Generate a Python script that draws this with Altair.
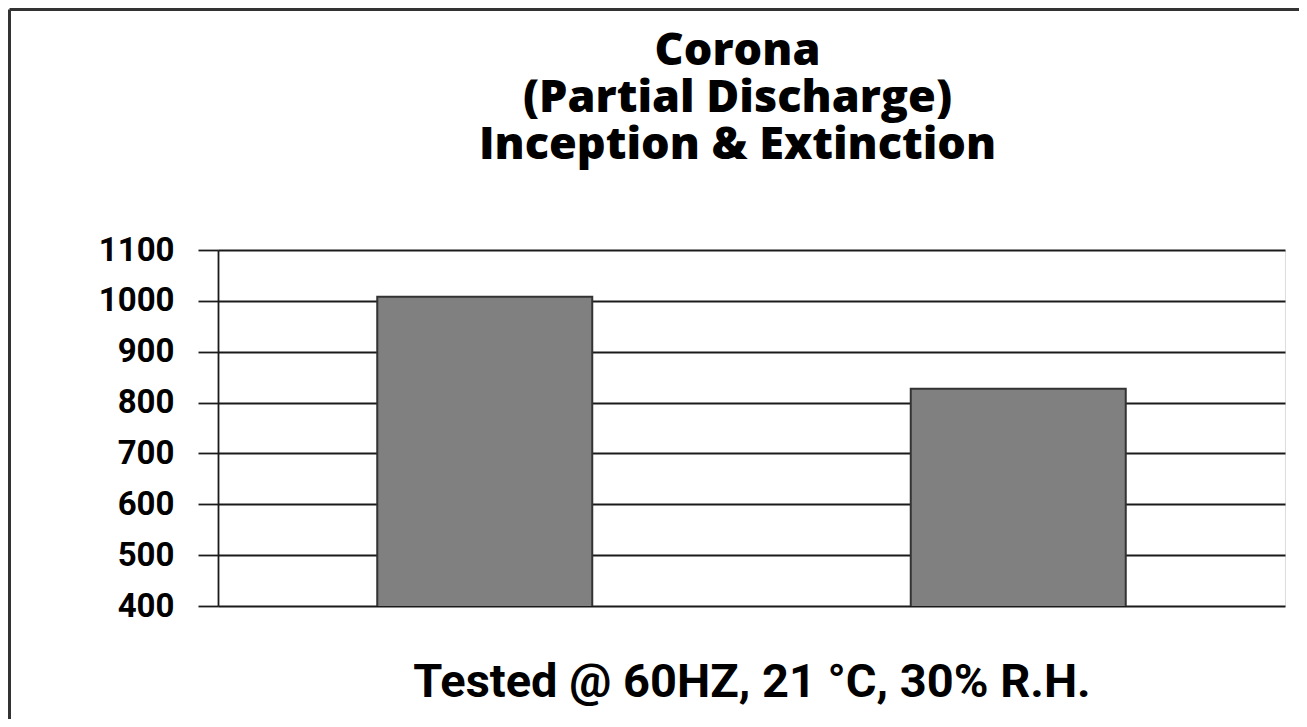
import altair as alt
import pandas as pd

categories = ["Inception", "Extinction"]
values = [1008, 827]
y_ticks = [400, 500, 600, 700, 800, 900, 1000, 1100]
title_lines = ["Corona", "(Partial Discharge)", "Inception & Extinction"]
footer = "Tested @ 60HZ, 21 °C, 30% R.H."

df = pd.DataFrame({"cat": categories, "val": values})
one = pd.DataFrame({"a": [0]})

W, H = 1067, 356
PL, PT = 210, 242
TOTAL_W, TOTAL_H = 1291, 711
COND = "Roboto, sans-serif"

bars = alt.Chart(df).mark_bar(
    color="#808080", stroke="#333333", strokeWidth=2, clip=True
).encode(
    x=alt.X("cat:N", sort=categories,
            scale=alt.Scale(paddingInner=0.597, paddingOuter=0.2985),
            axis=alt.Axis(labels=False, ticks=False, domain=False,
                          title=footer, titleFont=COND,
                          titleFontSize=47, titleFontWeight="bold",
                          titleColor="#000", titlePadding=53)),
    y=alt.Y("val:Q", scale=alt.Scale(domain=[400, 1100], nice=False, zero=False),
            axis=alt.Axis(values=y_ticks, title=None, grid=True, format="d",
                          gridColor="#1a1a1a", gridWidth=1.8,
                          tickSize=20, tickColor="#1a1a1a", tickWidth=1.8,
                          domainColor="#1a1a1a", domainWidth=1.8,
                          labelFont=COND, labelFontSize=33,
                          labelFontWeight="bold", labelColor="#000",
                          labelPadding=24)),
)

title = alt.Chart(one).mark_text(
    font="Open Sans", fontSize=45, fontWeight=800, color="#000",
    lineHeight=47, align="center", baseline="middle"
).encode(
    x=alt.value(W / 2 - 14), y=alt.value(51 - 8 - PT), text=alt.value(title_lines)
)

left_line = alt.Chart(one).mark_rule(color="#333333", strokeWidth=3).encode(
    x=alt.value(-PL + 1.5), y=alt.value(-PT + 1.5), y2=alt.value(TOTAL_H - PT)
)
top_line = alt.Chart(one).mark_rule(color="#333333", strokeWidth=3).encode(
    x=alt.value(-PL + 1.5), x2=alt.value(TOTAL_W - PL), y=alt.value(-PT + 1.5)
)

chart = alt.layer(bars, title, left_line, top_line).properties(
    width=W, height=H,
    autosize=alt.AutoSizeParams(type="none"),
    padding={"left": PL, "top": PT, "right": TOTAL_W - PL - W, "bottom": TOTAL_H - PT - H},
).configure_view(stroke="#1a1a1a", strokeWidth=1.8).configure(background="white")

chart.save("out.html", embed_options={"renderer": "svg", "actions": False})
